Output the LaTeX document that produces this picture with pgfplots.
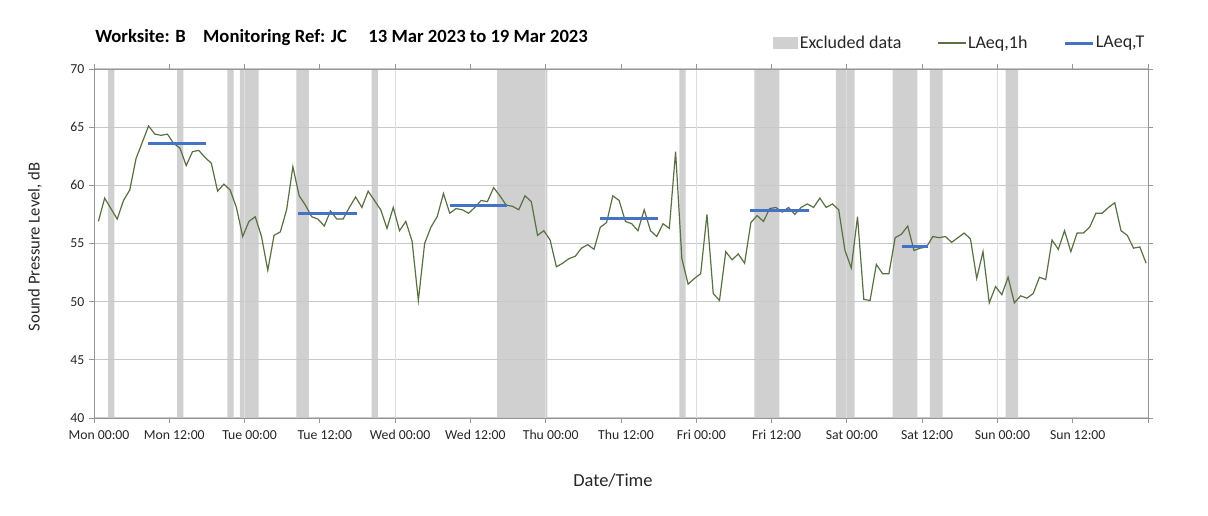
\documentclass[border=0pt]{standalone}
\usepackage{fontspec}
\setmainfont{Carlito}
\usepackage{pgfplots}
\pgfplotsset{compat=1.18}
\definecolor{bandgray}{RGB}{208,208,208}
\definecolor{laeqgreen}{RGB}{88,112,66}
\definecolor{laeqblue}{RGB}{68,114,196}
\definecolor{gridgray}{RGB}{200,200,200}
\definecolor{vgridgray}{RGB}{222,222,222}
\definecolor{axgray}{RGB}{150,150,150}
\begin{document}
\begin{tikzpicture}[x=0.75pt,y=0.75pt]
\path (0,0) rectangle (1208,515);
\node[anchor=base west, inner sep=0pt, font=\bfseries\fontsize{14}{16}\selectfont] at (95,472)
  {Worksite: B\hspace{13pt}Monitoring Ref: JC\hspace{16pt}13 Mar 2023 to 19 Mar 2023};
\begin{axis}[
  set layers,
  at={(70.5pt,72.75pt)}, anchor=south west,
  width=790.5pt, height=261.75pt, scale only axis,
  xmin=0, xmax=168, ymin=40, ymax=70,
  xtick={0,12,...,168},
  xticklabels={Mon 00:00,Mon 12:00,Tue 00:00,Tue 12:00,Wed 00:00,Wed 12:00,Thu 00:00,Thu 12:00,Fri 00:00,Fri 12:00,Sat 00:00,Sat 12:00,Sun 00:00,Sun 12:00,{}},
  ytick={40,45,...,70},
  /pgf/number format/assume math mode=true,
  tick align=outside, major tick length=3.75pt,
  tick style={draw=axgray, line width=0.6pt},
  axis line style={draw=axgray, line width=0.6pt},
  ymajorgrids, major grid style={draw=gridgray, line width=0.9pt},
  extra x ticks={24,48,72,96,120,144},
  extra x tick labels={},
  extra x tick style={grid=major, major grid style={draw=vgridgray, line width=0.9pt}, tick style={draw=none}},
  ticklabel style={font=\fontsize{10.3}{12}\selectfont, text=black!85},
  xticklabel style={xshift=3.75pt, yshift=-2pt},
  ylabel={Sound Pressure Level, dB},
  xlabel={Date/Time},
  ylabel style={font=\fontsize{12.5}{15}\selectfont, text=black!85, at={(axis description cs:-0.056,0.49)}, anchor=center},
  xlabel style={font=\fontsize{13.8}{16}\selectfont, text=black!85, at={(axis description cs:0.4924,-0.1777)}, anchor=center},
  legend columns=3,
  legend style={at={(axis description cs:0.998,1.0745)}, anchor=east, draw=none, fill=none,
    font=\fontsize{13.5}{16}\selectfont, inner sep=0pt,
    nodes={inner sep=1pt, text=black!85},
    /tikz/every even column/.append style={column sep=26pt}},
  legend cell align=left,
]
% Excluded data bands
\addplot[const plot mark left, fill=bandgray, draw=none, on layer=axis background,
  legend image code/.code={\fill[bandgray] (0pt,-4.5pt) rectangle (18.75pt,4.5pt);}]
 coordinates {(0,40) (2.25,70) (3.25,40) (13.25,70) (14.25,40) (21.25,70) (22.25,40)
 (23.25,70) (26.25,40) (32.25,70) (34.25,40) (44.25,70) (45.25,40) (64.25,70) (72.25,40)
 (93.3,70) (94.3,40) (105.25,70) (109.25,40) (118.25,70) (121.25,40) (127.3,70) (131.25,40)
 (133.25,70) (135.25,40) (145.3,70) (147.3,40) (168,40)} \closedcycle;
\addlegendentry{Excluded data}
% LAeq,1h
\addplot[laeqgreen, line width=0.9pt, mark=none,
  legend image code/.code={\draw[laeqgreen, line width=0.9pt] (0pt,0pt) -- (21pt,0pt);}]
 coordinates {
(0.7,56.9) (1.7,58.9) (2.7,58.0) (3.7,57.1) (4.7,58.7) (5.7,59.6) (6.7,62.3) (7.7,63.7)
(8.7,65.1) (9.7,64.4) (10.7,64.3) (11.7,64.4) (12.7,63.6) (13.7,63.2) (14.7,61.7) (15.7,62.9)
(16.7,63.0) (17.7,62.4) (18.7,61.9) (19.7,59.5) (20.7,60.1) (21.7,59.6) (22.7,58.1) (23.7,55.6)
(24.7,56.9) (25.7,57.3) (26.7,55.6) (27.7,52.7) (28.7,55.7) (29.7,56.0) (30.7,57.9) (31.7,61.6)
(32.7,59.1) (33.7,58.3) (34.7,57.3) (35.7,57.1) (36.7,56.5) (37.7,57.8) (38.7,57.1) (39.7,57.1)
(40.7,58.1) (41.7,59.0) (42.7,58.1) (43.7,59.5) (44.7,58.7) (45.7,57.9) (46.7,56.3) (47.7,58.1)
(48.7,56.1) (49.7,56.9) (50.7,55.2) (51.7,50.1) (52.7,55.0) (53.7,56.4) (54.7,57.3) (55.7,59.3)
(56.7,57.6) (57.7,58.0) (58.7,57.9) (59.7,57.6) (60.7,58.1) (61.7,58.7) (62.7,58.6) (63.7,59.8)
(64.7,59.1) (65.7,58.3) (66.7,58.2) (67.7,57.9) (68.7,59.1) (69.7,58.6) (70.7,55.7) (71.7,56.1)
(72.7,55.3) (73.7,53.0) (74.7,53.3) (75.7,53.7) (76.7,53.9) (77.7,54.6) (78.7,54.9) (79.7,54.5)
(80.7,56.4) (81.7,56.8) (82.7,59.1) (83.7,58.7) (84.7,56.9) (85.7,56.7) (86.7,56.1) (87.7,57.9)
(88.7,56.1) (89.7,55.6) (90.7,56.7) (91.7,56.3) (92.7,62.9) (93.7,53.7) (94.7,51.5) (95.7,52.0)
(96.7,52.4) (97.7,57.5) (98.7,50.7) (99.7,50.1) (100.7,54.3) (101.7,53.6) (102.7,54.1) (103.7,53.3)
(104.7,56.8) (105.7,57.4) (106.7,56.9) (107.7,58.0) (108.7,58.1) (109.7,57.7) (110.7,58.1) (111.7,57.5)
(112.7,58.1) (113.7,58.4) (114.7,58.1) (115.7,58.9) (116.7,58.1) (117.7,58.4) (118.7,57.9) (119.7,54.4)
(120.7,52.9) (121.7,57.3) (122.7,50.2) (123.7,50.1) (124.7,53.2) (125.7,52.4) (126.7,52.4) (127.7,55.5)
(128.7,55.8) (129.7,56.5) (130.7,54.4) (131.7,54.6) (132.7,54.7) (133.7,55.6) (134.7,55.5) (135.7,55.6)
(136.7,55.1) (137.7,55.5) (138.7,55.9) (139.7,55.4) (140.7,52.0) (141.7,54.3) (142.7,49.9) (143.7,51.3)
(144.7,50.6) (145.7,52.1) (146.7,49.9) (147.7,50.5) (148.7,50.3) (149.7,50.7) (150.7,52.1) (151.7,51.9)
(152.7,55.3) (153.7,54.5) (154.7,56.1) (155.7,54.3) (156.7,55.9) (157.7,55.9) (158.7,56.4) (159.7,57.6)
(160.7,57.6) (161.7,58.1) (162.7,58.5) (163.7,56.1) (164.7,55.7) (165.7,54.6) (166.7,54.7) (167.7,53.3)
};
\addlegendentry{LAeq,1h}
% LAeq,T
\addplot[laeqblue, line width=2.25pt, mark=none, unbounded coords=jump,
  legend image code/.code={\draw[laeqblue, line width=2.25pt] (0pt,0pt) -- (21pt,0pt);}]
 coordinates {(8.6,63.6) (17.85,63.6) (25,nan) (32.55,57.6) (41.95,57.6) (50,nan)
 (56.75,58.25) (65.9,58.25) (70,nan) (80.65,57.15) (89.85,57.15) (95,nan)
 (104.6,57.85) (114,57.85) (120,nan) (128.75,54.7) (133,54.7)};
\addlegendentry{LAeq,T}
\end{axis}
\end{tikzpicture}
\end{document}
